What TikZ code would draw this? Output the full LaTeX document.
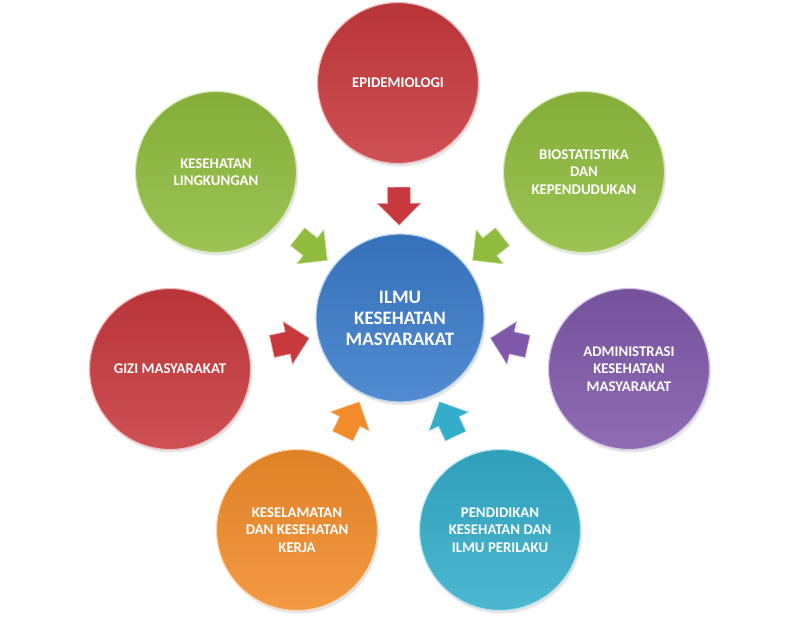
\documentclass[tikz,border=0pt]{standalone}
\usepackage{fontspec}
\setmainfont{Carlito}
\usetikzlibrary{shapes.arrows,shadows}

\definecolor{merah}{HTML}{C8393D}
\definecolor{hijau}{HTML}{8FBC3D}
\definecolor{biru}{HTML}{3A7BCA}
\definecolor{ungu}{HTML}{8058AA}
\definecolor{oranye}{HTML}{F28C2A}
\definecolor{toska}{HTML}{34ADCA}

\begin{document}
\begin{tikzpicture}[x=1pt,y=-1pt]
\tikzstyle{every node}=[font=\bfseries\fontsize{14.8}{17.5}\selectfont, text=white, align=center]
\tikzstyle{bola}=[circle, minimum size=161pt, inner sep=0pt, line width=1.2pt,
  drop shadow={opacity=0.2, shadow xshift=1.5pt, shadow yshift=-3pt}]
\tikzstyle{panah}=[single arrow, minimum height=38pt, minimum width=43pt,
  single arrow head extend=10.5pt, inner xsep=0pt, inner ysep=11pt, line width=0.6pt,
  sloped, allow upside down]

\useasboundingbox (0,0) rectangle (800,619);

\node[bola, top color=biru!92!black, bottom color=biru!88!white, draw=biru!35!white,
  minimum size=168pt, font=\bfseries\fontsize{19}{21}\selectfont]
  (ilmu) at (400,318) {ILMU\\KESEHATAN\\MASYARAKAT};

\node[bola, top color=merah!92!black, bottom color=merah!88!white, draw=merah!35!white]
  (epi) at (398,83) {EPIDEMIOLOGI};
\node[bola, top color=hijau!92!black, bottom color=hijau!88!white, draw=hijau!35!white]
  (lingk) at (216,172) {KESEHATAN\\LINGKUNGAN};
\node[bola, top color=hijau!92!black, bottom color=hijau!88!white, draw=hijau!35!white]
  (biostat) at (584,172) {BIOSTATISTIKA\\DAN\\KEPENDUDUKAN};
\node[bola, top color=merah!92!black, bottom color=merah!88!white, draw=merah!35!white]
  (gizi) at (170,369) {GIZI MASYARAKAT};
\node[bola, top color=ungu!92!black, bottom color=ungu!88!white, draw=ungu!35!white]
  (admin) at (629,369) {ADMINISTRASI\\KESEHATAN\\MASYARAKAT};
\node[bola, top color=oranye!92!black, bottom color=oranye!88!white, draw=oranye!35!white]
  (k3) at (297,530) {KESELAMATAN\\DAN KESEHATAN\\KERJA};
\node[bola, top color=toska!92!black, bottom color=toska!88!white, draw=toska!35!white]
  (promkes) at (500,530) {PENDIDIKAN\\KESEHATAN DAN\\ILMU PERILAKU};

% panah ke tengah
\path (epi.center) -- (ilmu.center) node[midway, panah, fill=merah, draw=merah!50!white] (p1) {};
\path (lingk.center) -- (ilmu.center) node[midway, panah, fill=hijau, draw=hijau!50!white] (p2) {};
\path (biostat.center) -- (ilmu.center) node[midway, panah, fill=hijau, draw=hijau!50!white] (p3) {};
\path (gizi.center) -- (ilmu.center) node[midway, panah, fill=merah, draw=merah!50!white] (p4) {};
\path (admin.center) -- (ilmu.center) node[midway, panah, fill=ungu, draw=ungu!50!white] (p5) {};
\path (k3.center) -- (ilmu.center) node[midway, panah, fill=oranye, draw=oranye!50!white] (p6) {};
\path (promkes.center) -- (ilmu.center) node[midway, panah, fill=toska, draw=toska!50!white] (p7) {};

\end{tikzpicture}
\end{document}
